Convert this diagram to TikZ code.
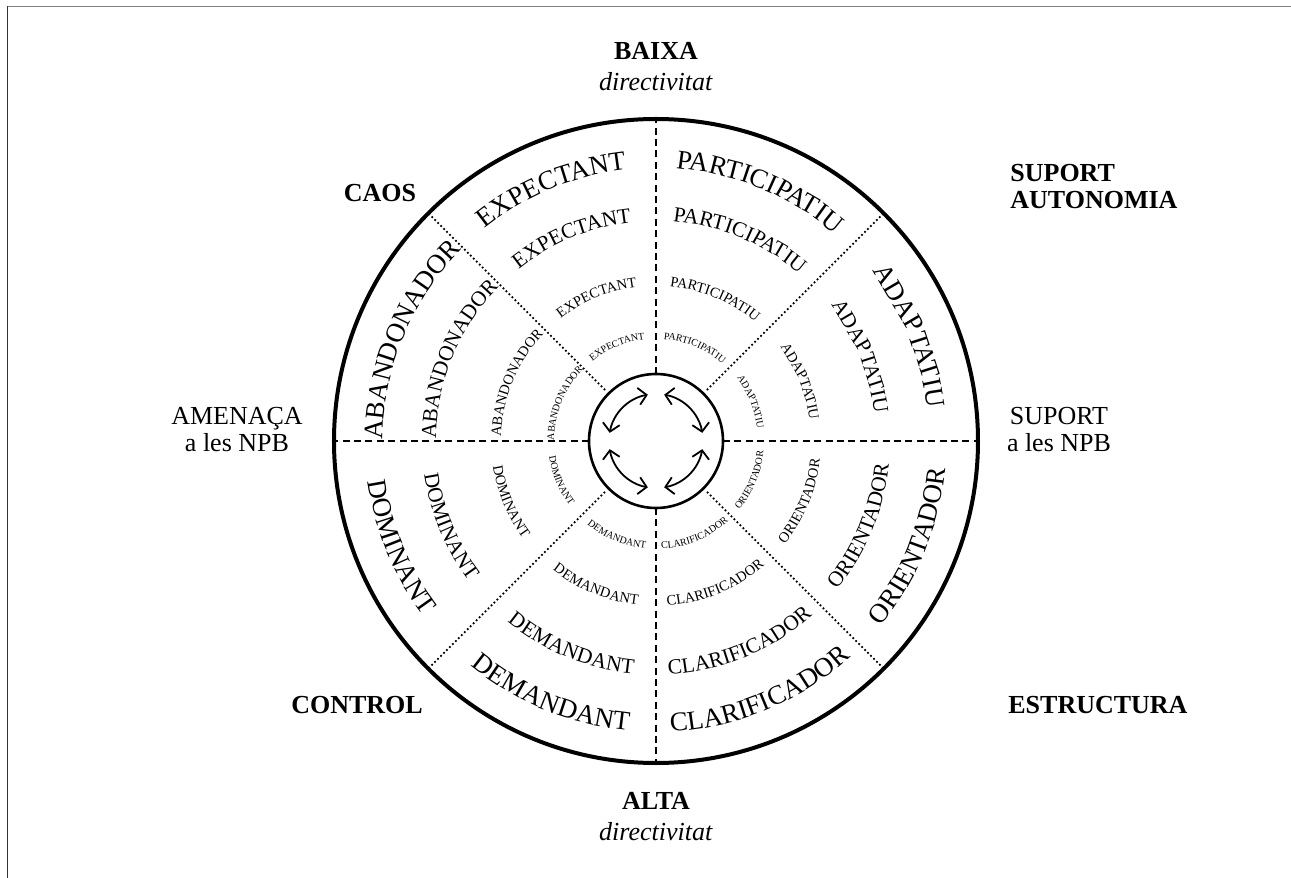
\documentclass[tikz,border=0pt]{standalone}
\usepackage{fontspec}
\setmainfont{Liberation Serif}
\usetikzlibrary{arrows.meta,decorations.text,shapes.geometric}
\tikzset{frameline/.style={line width=0.75pt}}
\tikzset{axisline/.style={line width=1.3pt, dash pattern=on 3.5pt off 2.2pt}}
\tikzset{diagline/.style={line width=1.25pt, line cap=round, dash pattern=on 0pt off 2.1pt, shorten <=3pt}}
\tikzset{turn/.style={line width=0.9pt, {Straight Barb[length=4pt,width=8.5pt]}-{Straight Barb[length=4pt,width=8.5pt]}}}
\tikzset{rimtext/.style={font=\fontsize{13}{13.5}\selectfont, align=center, inner sep=0pt}}
\tikzset{ringword/.style 2 args={decorate, decoration={text along path, text align=center, text={|\fontsize{#2}{#2}\selectfont|#1}}}}

\begin{document}
\begin{tikzpicture}[x=0.5pt,y=0.5pt]
\useasboundingbox (-656,-437) rectangle (635,441);
\draw[frameline, black!50] (-649,434.5) -- (635,434.5);
\draw[frameline, black!80] (-648.5,434.5) -- (-648.5,-437);

\node[circle, draw, line width=2pt, minimum size=322pt, inner sep=0pt, outer sep=0pt] (wheel) at (0,0) {};
\node[circle, draw, line width=1.3pt, minimum size=67pt, inner sep=0pt, outer sep=0pt] (hub) at (0,0) {};

\draw[axisline] (hub.north) -- (wheel.north);
\draw[axisline] (hub.south) -- (wheel.south);
\draw[axisline] (hub.west) -- (wheel.west);
\draw[axisline] (hub.east) -- (wheel.east);
\draw[diagline] (hub.north west) -- (wheel.north west);
\draw[diagline] (hub.north east) -- (wheel.north east);
\draw[diagline] (hub.south west) -- (wheel.south west);
\draw[diagline] (hub.south east) -- (wheel.south east);

\draw[turn] (100:47) arc(100:170:47);
\draw[turn] (10:47) arc(10:80:47);
\draw[turn] (190:47) arc(190:260:47);
\draw[turn] (280:47) arc(280:350:47);

\path[ringword={ABANDONADOR}{13.5}] (180:273) arc(180:135:273);
\path[ringword={ABANDONADOR}{10.75}] (180:220) arc(180:135:220);
\path[ringword={ABANDONADOR}{7.25}] (180:155) arc(180:135:155);
\path[ringword={ABANDONADOR}{5}] (180:102) arc(180:135:102);
\path[ringword={EXPEC{TA}NT}{13.5}] (135:273) arc(135:90:273);
\path[ringword={EXPEC{TA}NT}{10.75}] (135:220) arc(135:90:220);
\path[ringword={EXPEC{TA}NT}{7.25}] (135:155) arc(135:90:155);
\path[ringword={EXPEC{TA}NT}{5}] (135:102) arc(135:90:102);
\path[ringword={{PA}{RT}ICI{PAT}IU}{13.5}] (90:273) arc(90:45:273);
\path[ringword={{PA}{RT}ICI{PAT}IU}{10.75}] (90:220) arc(90:45:220);
\path[ringword={{PA}{RT}ICI{PAT}IU}{7.25}] (90:155) arc(90:45:155);
\path[ringword={{PA}{RT}ICI{PAT}IU}{5}] (90:102) arc(90:45:102);
\path[ringword={{ADAP}{TAT}IU}{13.5}] (45:273) arc(45:0:273);
\path[ringword={{ADAP}{TAT}IU}{10.75}] (45:220) arc(45:0:220);
\path[ringword={{ADAP}{TAT}IU}{7.25}] (45:155) arc(45:0:155);
\path[ringword={{ADAP}{TAT}IU}{5}] (45:102) arc(45:0:102);
\path[ringword={DOMINANT}{13.5}] (180:291) arc(180:225:291);
\path[ringword={DOMINANT}{10.75}] (180:234) arc(180:225:234);
\path[ringword={DOMINANT}{7.25}] (180:165) arc(180:225:165);
\path[ringword={DOMINANT}{5}] (180:108) arc(180:225:108);
\path[ringword={DEMANDANT}{13.5}] (225:291) arc(225:270:291);
\path[ringword={DEMANDANT}{10.75}] (225:234) arc(225:270:234);
\path[ringword={DEMANDANT}{7.25}] (225:165) arc(225:270:165);
\path[ringword={DEMANDANT}{5}] (225:108) arc(225:270:108);
\path[ringword={CLARIFICADOR}{13.5}] (270:291) arc(270:315:291);
\path[ringword={CLARIFICADOR}{10.75}] (270:234) arc(270:315:234);
\path[ringword={CLARIFICADOR}{7.25}] (270:165) arc(270:315:165);
\path[ringword={CLARIFICADOR}{5}] (270:108) arc(270:315:108);
\path[ringword={ORIEN{TA}DOR}{13.5}] (315:291) arc(315:360:291);
\path[ringword={ORIEN{TA}DOR}{10.75}] (315:234) arc(315:360:234);
\path[ringword={ORIEN{TA}DOR}{7.25}] (315:165) arc(315:360:165);
\path[ringword={ORIEN{TA}DOR}{5}] (315:108) arc(315:360:108);

\node[rimtext, font=\fontsize{13}{15.5}\selectfont] (baixa) at (0,374.5) {\textbf{BAIXA}\\\textit{directivitat}};
\node[rimtext, font=\fontsize{13}{15.5}\selectfont] (alta) at (0,-376) {\textbf{ALTA}\\\textit{directivitat}};
\node[rimtext] (amenaca) at (-419,11.5) {AMENAÇA\\a les NPB};
\node[rimtext] (suportnpb) at (403,11.5) {SUPORT\\a les NPB};
\node[rimtext, font=\bfseries\fontsize{13}{13.5}\selectfont] (caos) at (-276,248) {CAOS};
\node[rimtext, align=left, anchor=west, font=\bfseries\fontsize{13}{13.5}\selectfont] (autonomia) at (354,254) {SUPORT\\AUTONOMIA};
\node[rimtext, font=\bfseries\fontsize{13}{13.5}\selectfont] (control) at (-299,-264) {CONTROL};
\node[rimtext, anchor=west, font=\bfseries\fontsize{13}{13.5}\selectfont] (estructura) at (352,-264) {ESTRUCTURA};
\end{tikzpicture}
\end{document}
